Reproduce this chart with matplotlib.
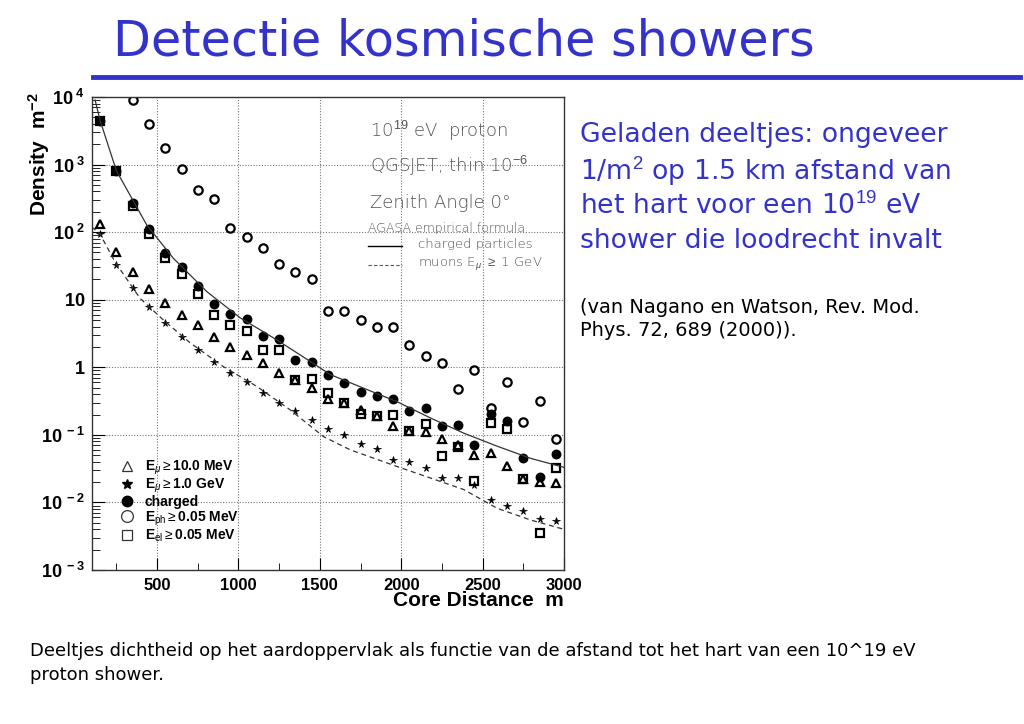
import matplotlib
matplotlib.use("Agg")
import matplotlib.pyplot as plt
import numpy as np
from matplotlib.lines import Line2D
from matplotlib.ticker import FixedLocator, NullFormatter

# ---- data ----
r = [150, 250, 350, 450, 550, 650, 750, 850, 950, 1050,
     1150, 1250, 1350, 1450, 1550, 1650, 1750, 1850, 1950, 2050,
     2150, 2250, 2350, 2450, 2550, 2650, 2750, 2850, 2950]

mu10 = [132, 50, 26, 14.5, 8.9, 6.0, 4.2, 2.8, 2.0, 1.5,
        1.15, 0.82, 0.65, 0.50, 0.34, 0.30, 0.23, 0.19, 0.133, 0.115,
        0.11, 0.087, 0.071, 0.050, 0.054, 0.035, 0.022, 0.020, 0.0197]

mu1gev = [93, 33, 15, 7.9, 4.5, 2.8, 1.8, 1.2, 0.82, 0.60,
          0.41, 0.30, 0.226, 0.166, 0.123, 0.10, 0.074, 0.062, 0.043, 0.040,
          0.032, 0.023, 0.023, 0.018, 0.0107, 0.009, 0.0074, 0.0056, 0.0054]

charged = [4470, 810, 270, 110, 49, 30, 16.2, 8.7, 6.1, 5.1,
           2.9, 2.6, 1.29, 1.19, 0.76, 0.59, 0.43, 0.38, 0.34, 0.226,
           0.25, 0.135, 0.138, 0.071, 0.204, 0.162, 0.045, 0.024, 0.052]

photons = [np.nan, np.nan, 9000, 4000, 1750, 850, 420, 305, 115, 84,
           58, 34, 26, 20, 6.9, 6.8, 5.0, 4.0, 3.9, 2.15,
           1.47, 1.15, 0.48, 0.91, 0.25, 0.60, 0.155, 0.32, 0.087]

electrons = [4470, 795, 245, 95, 41, 24, 12, 6.0, 4.2, 3.5,
             1.78, 1.78, 0.65, 0.67, 0.42, 0.30, 0.204, 0.19, 0.20, 0.115,
             0.145, 0.048, 0.066, 0.021, 0.151, 0.123, 0.022, 0.0035, 0.032]

# AGASA curves, traced points
agasa_r = [119, 150, 250, 436, 600, 805, 1010, 1236, 1441, 1564, 1769,
           1974, 2179, 2384, 2589, 2794, 3000]
agasa_ch = [9000, 4470, 810, 128, 41, 13.2, 5.4, 2.54, 1.22, 0.78, 0.49,
            0.31, 0.178, 0.106, 0.068, 0.045, 0.033]

muon_r = [98, 150, 242, 395, 539, 703, 908, 1113, 1318, 1523, 1687,
          1974, 2179, 2384, 2589, 2794, 3000]
muon_ch = [120, 93, 36, 10.5, 5.0, 2.3, 1.02, 0.52, 0.234, 0.094, 0.06,
           0.034, 0.023, 0.0155, 0.0082, 0.0055, 0.004]

x_ticks = [500, 1000, 1500, 2000, 2500, 3000]
y_ticks = [1e-3, 1e-2, 1e-1, 1, 10, 1e2, 1e3, 1e4]
y_labels = [r'$\mathbf{10^{\ -3}}$', r'$\mathbf{10^{\ -2}}$', r'$\mathbf{10^{\ -1}}$',
            r'$\mathbf{1}$', r'$\mathbf{10}$', r'$\mathbf{10^{\ 2}}$',
            r'$\mathbf{10^{\ 3}}$', r'$\mathbf{10^{\ 4}}$']

BLUE = '#3333cc'

plt.rcParams['font.family'] = ['Liberation Sans', 'DejaVu Sans']
plt.rcParams['mathtext.fontset'] = 'custom'
plt.rcParams['mathtext.bf'] = 'Liberation Sans:bold'
plt.rcParams['mathtext.rm'] = 'Liberation Sans'
plt.rcParams['mathtext.it'] = 'Liberation Sans:italic'

fig = plt.figure(figsize=(10.24, 7.24), dpi=100)
W, H = 1024, 724

# slide title + rule
fig.text(113 / W, 1 - 42 / H, 'Detectie kosmische showers', color=BLUE,
         fontsize=35.5, family='DejaVu Sans', va='center', ha='left')
fig.add_artist(Line2D([93 / W, 1020 / W], [1 - 77 / H, 1 - 77 / H],
                      color=BLUE, lw=3.5))

ax = fig.add_axes([92 / W, 1 - 570 / H, (564 - 92) / W, (570 - 97) / H])
ax.set_yscale('log')
ax.set_xlim(100, 3000)
ax.set_ylim(1e-3, 1e4)

mk = dict(ls='none', color='k', mew=1.6)
ax.plot(r, mu10, marker='^', mfc='none', ms=6, **mk)
ax.plot(r, mu1gev, marker='*', ms=5.5, mew=0.5, ls='none', color='k')
ax.plot(r, charged, marker='o', ms=5.5, **mk)
ax.plot(r, photons, marker='o', mfc='none', ms=6, **mk)
ax.plot(r, electrons, marker='s', mfc='none', ms=6, **mk)

ax.plot(agasa_r, agasa_ch, color='#333333', lw=0.9)
ax.plot(muon_r, muon_ch, color='#333333', lw=0.9, ls=(0, (4, 3)))

ax.xaxis.set_major_locator(FixedLocator(x_ticks))
ax.xaxis.set_minor_locator(FixedLocator([250, 750, 1250, 1750, 2250, 2750]))
ax.set_xticklabels([str(t) for t in x_ticks], fontsize=12, fontweight='bold')
ax.set_yticks(y_ticks)
ax.set_yticklabels(y_labels, fontsize=13)
ax.yaxis.set_minor_formatter(NullFormatter())
ax.tick_params(which='both', direction='in', top=False, right=False)
ax.tick_params(which='major', length=9, width=0.8)
ax.tick_params(which='minor', length=5, width=0.6)
ax.tick_params(axis='y', which='minor', length=6)
ax.tick_params(axis='x', pad=6)
ax.tick_params(axis='y', pad=5)

for x in x_ticks[:-1]:
    ax.axvline(x, color='#777777', lw=0.8, ls=(0, (1, 1.5)), zorder=0)
for y in y_ticks[1:-1]:
    ax.axhline(y, color='#777777', lw=0.8, ls=(0, (1, 1.5)), zorder=0)
for s in ax.spines.values():
    s.set_linewidth(1.0)
    s.set_color('#333333')

ax.set_xlabel('Core Distance  m', fontsize=15, fontweight='bold')
ax.xaxis.set_label_coords(1.0, -0.045)
ax.xaxis.label.set_ha('right')
ax.set_ylabel(r'Density  m$^{\mathbf{-2}}$', fontsize=15, fontweight='bold')
ax.yaxis.set_label_coords(-0.085, 0.88)

# annotation in the upper right of the plot
ax_px = lambda px, py: ((px - 92) / (564 - 92), (570 - py) / (570 - 97))
ann = dict(transform=ax.transAxes, color='#555555', family='DejaVu Sans',
           fontweight='light', va='center', ha='left')
ax.text(*ax_px(370, 131), r'10$^{19}$ eV  proton', fontsize=13, **ann)
ax.text(*ax_px(370, 166), r'QGSJET, thin 10$^{-6}$', fontsize=13, **ann)
ax.text(*ax_px(370, 203), 'Zenith Angle 0°', fontsize=13, **ann)
ax.text(*ax_px(368, 228), 'AGASA empirical formula', fontsize=9, **ann)
ax.text(*ax_px(418, 244), 'charged particles', fontsize=9.5, **ann)
ax.text(*ax_px(418, 264), r'muons E$_{\mu}$ $\geq$ 1 GeV', fontsize=9.5, **ann)
ax.add_line(Line2D([ax_px(368, 0)[0], ax_px(402, 0)[0]], [ax_px(0, 246)[1]] * 2,
                   transform=ax.transAxes, color='k', lw=1.0))
ax.add_line(Line2D([ax_px(368, 0)[0], ax_px(402, 0)[0]], [ax_px(0, 265)[1]] * 2,
                   transform=ax.transAxes, color='#555555', lw=0.8, ls=(0, (3, 2))))

# marker legend bottom left
handles = [
    Line2D([], [], marker='^', mfc='none', mec='#333333', ls='none', ms=7.5, mew=0.9),
    Line2D([], [], marker='*', color='k', ls='none', ms=7.5),
    Line2D([], [], marker='o', color='k', ls='none', ms=7.5),
    Line2D([], [], marker='o', mfc='none', mec='#333333', ls='none', ms=8.5, mew=0.9),
    Line2D([], [], marker='s', mfc='none', mec='#333333', ls='none', ms=7.5, mew=0.9),
]
labels = [r'E$_{\mu}$$\geq$10.0 MeV', r'E$_{\mu}$$\geq$1.0 GeV', 'charged',
          r'E$_{\mathrm{ph}}$$\geq$0.05 MeV', r'E$_{\mathrm{el}}$$\geq$0.05 MeV']
leg = ax.legend(handles, labels, loc='lower left', bbox_to_anchor=ax_px(114, 551),
                frameon=False, handlelength=0.9, handletextpad=0.8,
                labelspacing=0.0, borderpad=0,
                prop={'weight': 'bold', 'size': 10})

# slide text on the right
right_lines = ['Geladen deeltjes: ongeveer', r'1/m$^{2}$ op 1.5 km afstand van',
               r'het hart voor een 10$^{19}$ eV', 'shower die loodrecht invalt']
for line, yp in zip(right_lines, [135, 171, 206, 241]):
    fig.text(580 / W, 1 - yp / H, line, color=BLUE, fontsize=19.2,
             family='DejaVu Sans', va='center')
fig.text(580 / W, 1 - 307 / H, '(van Nagano en Watson, Rev. Mod.', color='k',
         fontsize=14, family='DejaVu Sans', va='center')
fig.text(580 / W, 1 - 331 / H, 'Phys. 72, 689 (2000)).', color='k',
         fontsize=14, family='DejaVu Sans', va='center')

# caption
fig.text(30 / W, 1 - 651 / H,
         'Deeltjes dichtheid op het aardoppervlak als functie van de afstand tot het hart van een 10^19 eV',
         color='k', fontsize=13, family='DejaVu Sans', va='center')
fig.text(30 / W, 1 - 675 / H, 'proton shower.', color='k', fontsize=13,
         family='DejaVu Sans', va='center')

fig.savefig('out.png', dpi=100)
